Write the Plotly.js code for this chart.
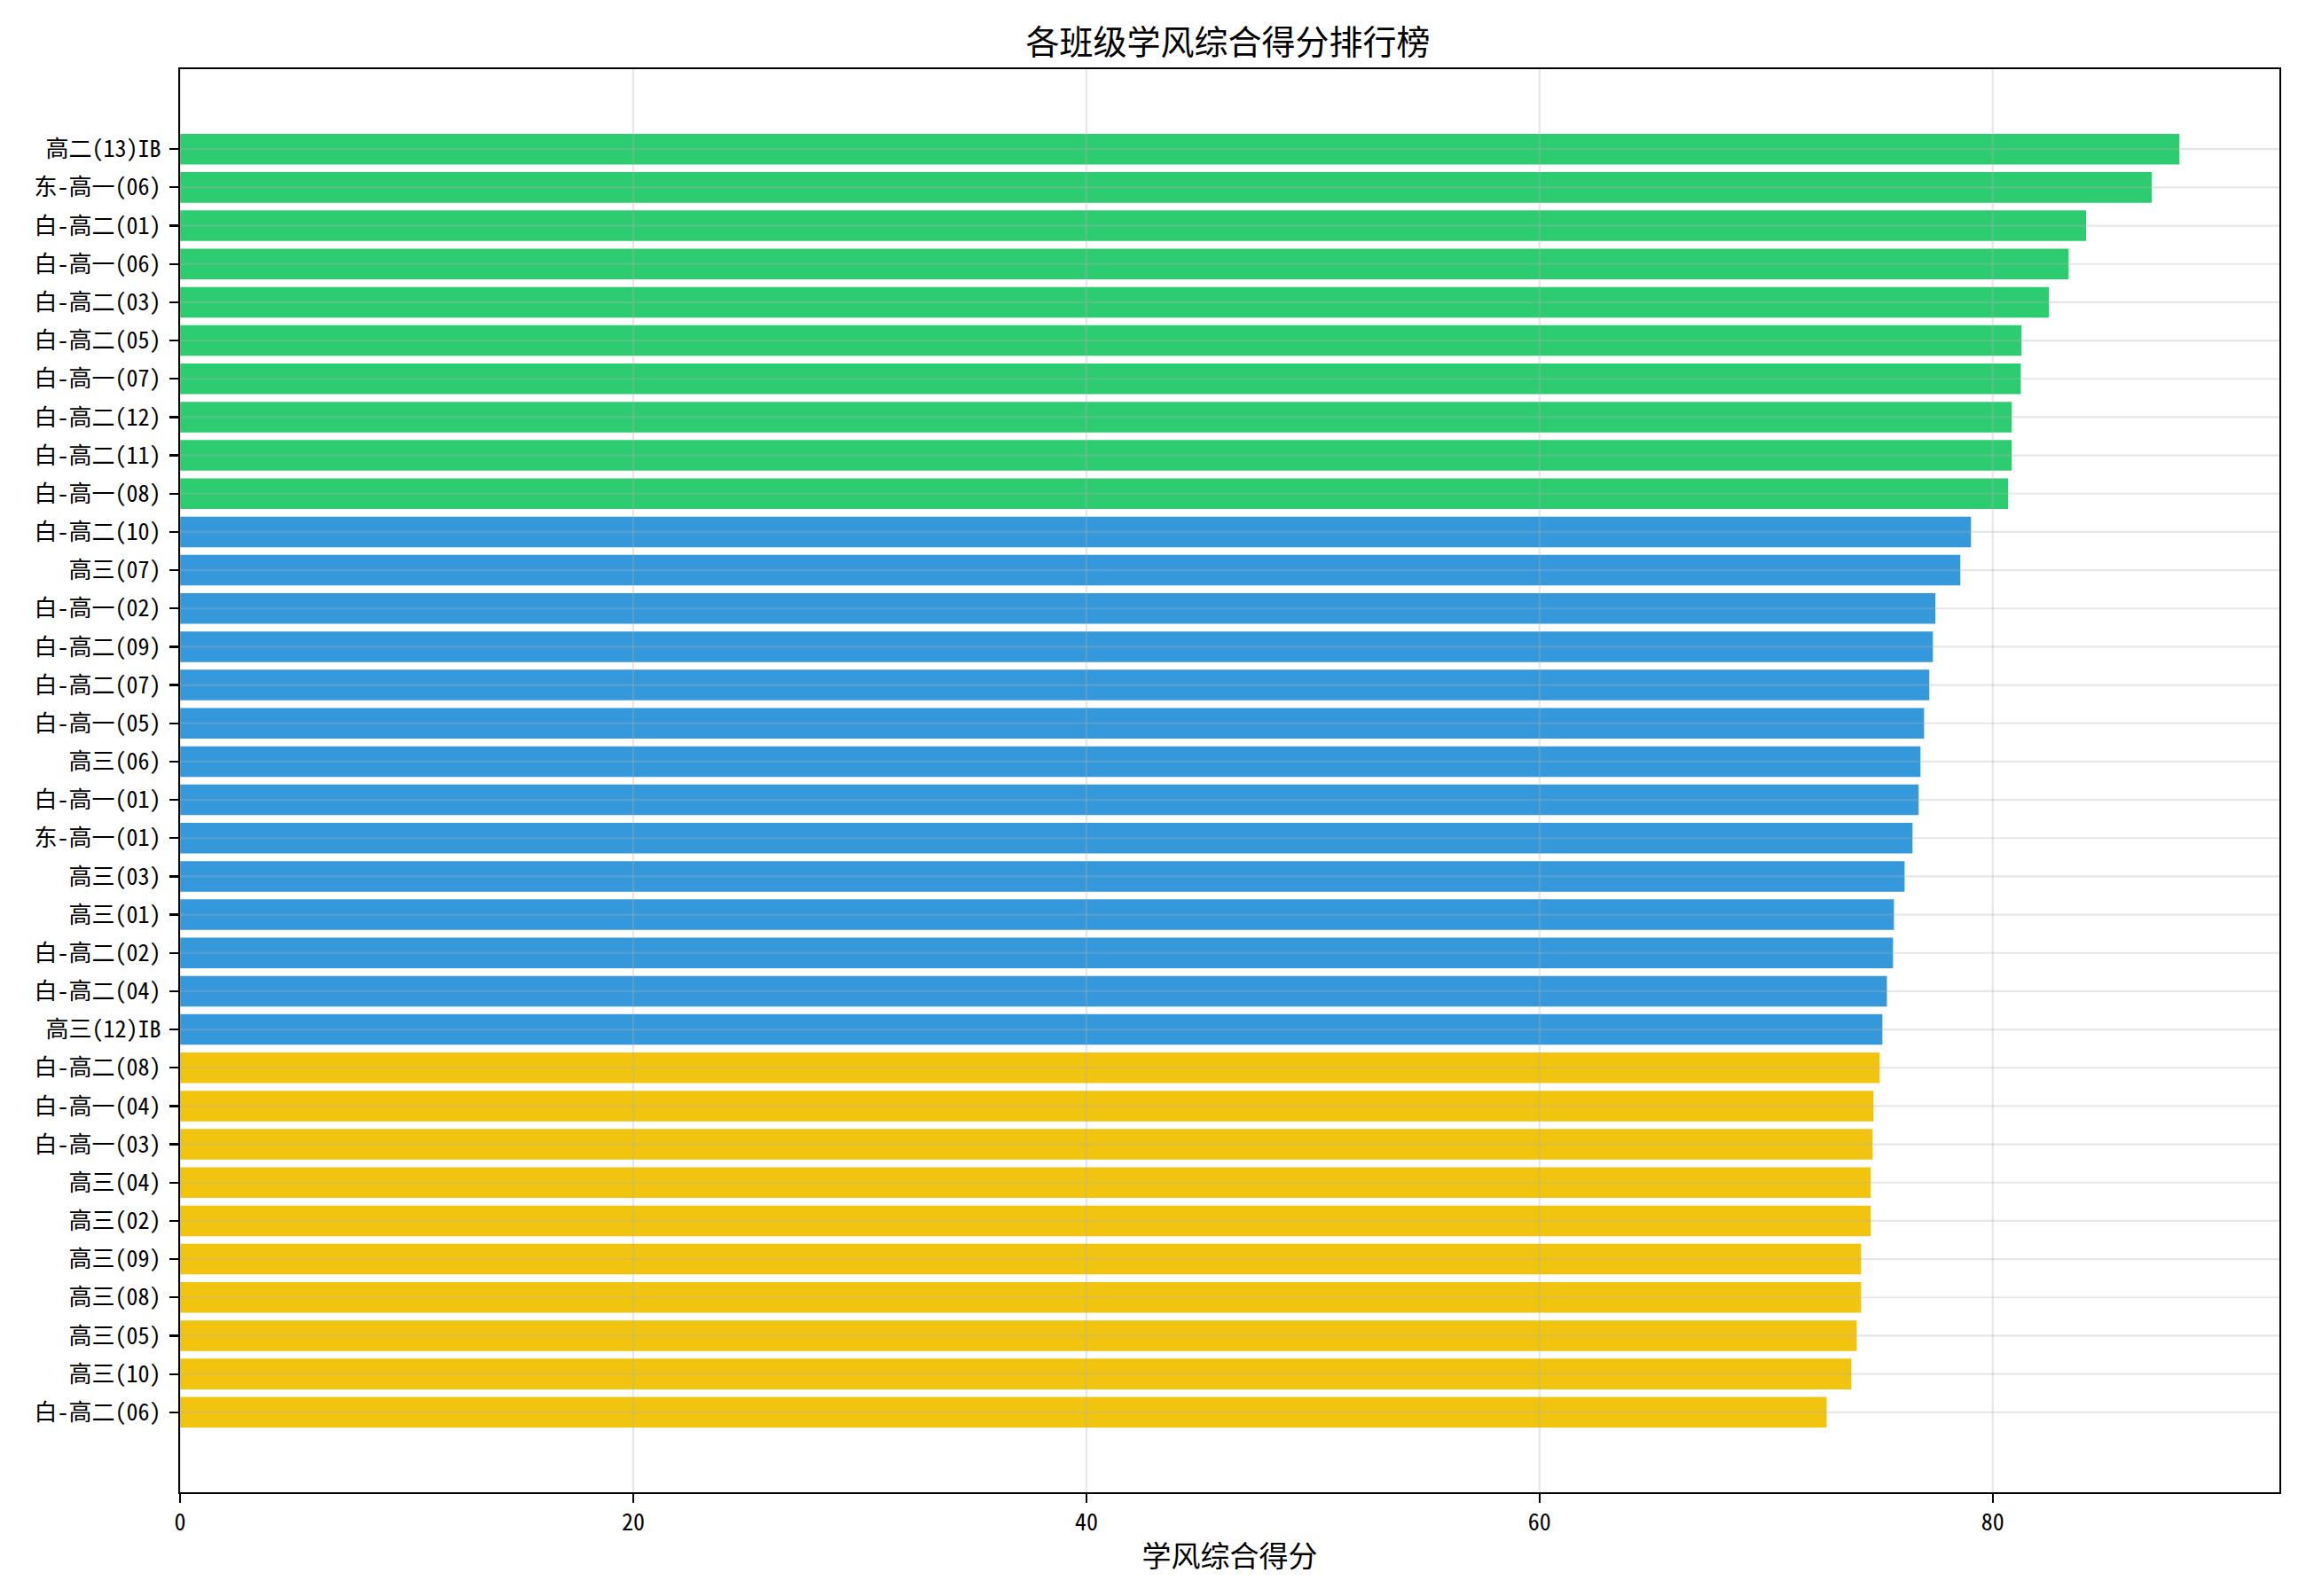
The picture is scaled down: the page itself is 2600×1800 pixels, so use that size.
<!DOCTYPE html>
<html>
<head>
<meta charset="utf-8">
<script src="https://cdn.plot.ly/plotly-3.0.1.min.js"></script>
<style>
  html, body { margin: 0; padding: 0; background: #fff; }
  #chart { width: 2600px; height: 1800px; }
</style>
</head>
<body>
<div id="chart"></div>
<script>
// ─── Data (ranking order, best first) ─────────────────────────────
const classes = [
    '高二(13)IB', '东-高一(06)', '白-高二(01)', '白-高一(06)', '白-高二(03)',
    '白-高二(05)', '白-高一(07)', '白-高二(12)', '白-高二(11)', '白-高一(08)',
    '白-高二(10)', '高三(07)', '白-高一(02)', '白-高二(09)', '白-高二(07)',
    '白-高一(05)', '高三(06)', '白-高一(01)', '东-高一(01)', '高三(03)',
    '高三(01)', '白-高二(02)', '白-高二(04)', '高三(12)IB', '白-高二(08)',
    '白-高一(04)', '白-高一(03)', '高三(04)', '高三(02)', '高三(09)',
    '高三(08)', '高三(05)', '高三(10)', '白-高二(06)'
];

const scores = [
    88.24, 87.02, 84.12, 83.35, 82.48,
    81.27, 81.24, 80.84, 80.84, 80.68,
    79.04, 78.57, 77.47, 77.36, 77.20,
    76.97, 76.81, 76.73, 76.46, 76.11,
    75.64, 75.60, 75.33, 75.13, 75.01,
    74.74, 74.70, 74.62, 74.62, 74.19,
    74.19, 74.00, 73.76, 72.67
];

// tier per class: 'top' | 'mid' | 'low'
const tiers = [
    'top', 'top', 'top', 'top', 'top', 'top', 'top', 'top', 'top', 'top',
    'mid', 'mid', 'mid', 'mid', 'mid', 'mid', 'mid', 'mid', 'mid', 'mid',
    'mid', 'mid', 'mid', 'mid',
    'low', 'low', 'low', 'low', 'low', 'low', 'low', 'low', 'low', 'low'
];

const xTicks = [0, 20, 40, 60, 80];

const TIER_COLORS = { top: '#2ecc71', mid: '#3498db', low: '#f1c40f' };
const FONT = '"Noto Sans CJK SC", "Noto Sans", sans-serif';
// half-width ASCII like the SimHei labels of the original
const TICK_FONT = '"Noto Sans Mono CJK SC", "Noto Sans CJK SC", sans-serif';
const GRID = 'rgba(176,176,176,0.3)';

// matplotlib-style margins: 5% of data span on each side
const n = classes.length;
const yPad = (n - 1 + 0.8) * 0.05;
const xMax = Math.max(...scores) * 1.05;

// Grid drawn above the bars, as in the original figure
const gridShapes = [
    ...xTicks.map(v => ({
        type: 'line', layer: 'above', xref: 'x', yref: 'paper',
        x0: v, x1: v, y0: 0, y1: 1, line: { color: GRID, width: 2.2 }
    })),
    ...classes.map((_, i) => ({
        type: 'line', layer: 'above', xref: 'paper', yref: 'y',
        x0: 0, x1: 1, y0: i, y1: i, line: { color: GRID, width: 2.2 }
    }))
];

const data = [{
    type: 'bar',
    orientation: 'h',
    x: scores,
    y: classes,
    width: 0.8,
    marker: { color: tiers.map(t => TIER_COLORS[t]), line: { width: 0 } },
    hoverinfo: 'x+y'
}];

const layout = {
    width: 2600,
    height: 1800,
    paper_bgcolor: '#fff',
    plot_bgcolor: '#fff',
    margin: { l: 203, r: 30, t: 78, b: 117 },
    font: { family: FONT, color: '#000', size: 26 },
    showlegend: false,
    title: {
        text: '各班级学风综合得分排行榜',
        font: { family: FONT, size: 38, color: '#000' },
        x: 0.5325, xanchor: 'center',
        y: 1 - 48 / 1800, yref: 'container', yanchor: 'middle'
    },
    xaxis: {
        range: [0, xMax],
        tickvals: xTicks,
        ticktext: xTicks.map(String),
        showgrid: false,
        zeroline: false,
        showline: true, mirror: true, linecolor: '#000', linewidth: 2.2,
        ticks: 'outside', ticklen: 10, tickwidth: 2.2, tickcolor: '#000',
        tickfont: { family: TICK_FONT, size: 26, color: '#000' },
        title: { text: '学风综合得分', font: { family: FONT, size: 33, color: '#000' }, standoff: 12 }
    },
    yaxis: {
        type: 'category',
        categoryorder: 'array',
        categoryarray: classes,
        range: [n - 1 + yPad + 0.4, -yPad - 0.4],
        showgrid: false,
        zeroline: false,
        showline: true, mirror: true, linecolor: '#000', linewidth: 2.2,
        ticks: 'outside', ticklen: 10, tickwidth: 2.2, tickcolor: '#000',
        tickfont: { family: TICK_FONT, size: 26, color: '#000' },
        ticklabelstandoff: 4
    },
    shapes: gridShapes,
    bargap: 0.2
};

Plotly.newPlot('chart', data, layout, { staticPlot: true, displayModeBar: false });
</script>
</body>
</html>
